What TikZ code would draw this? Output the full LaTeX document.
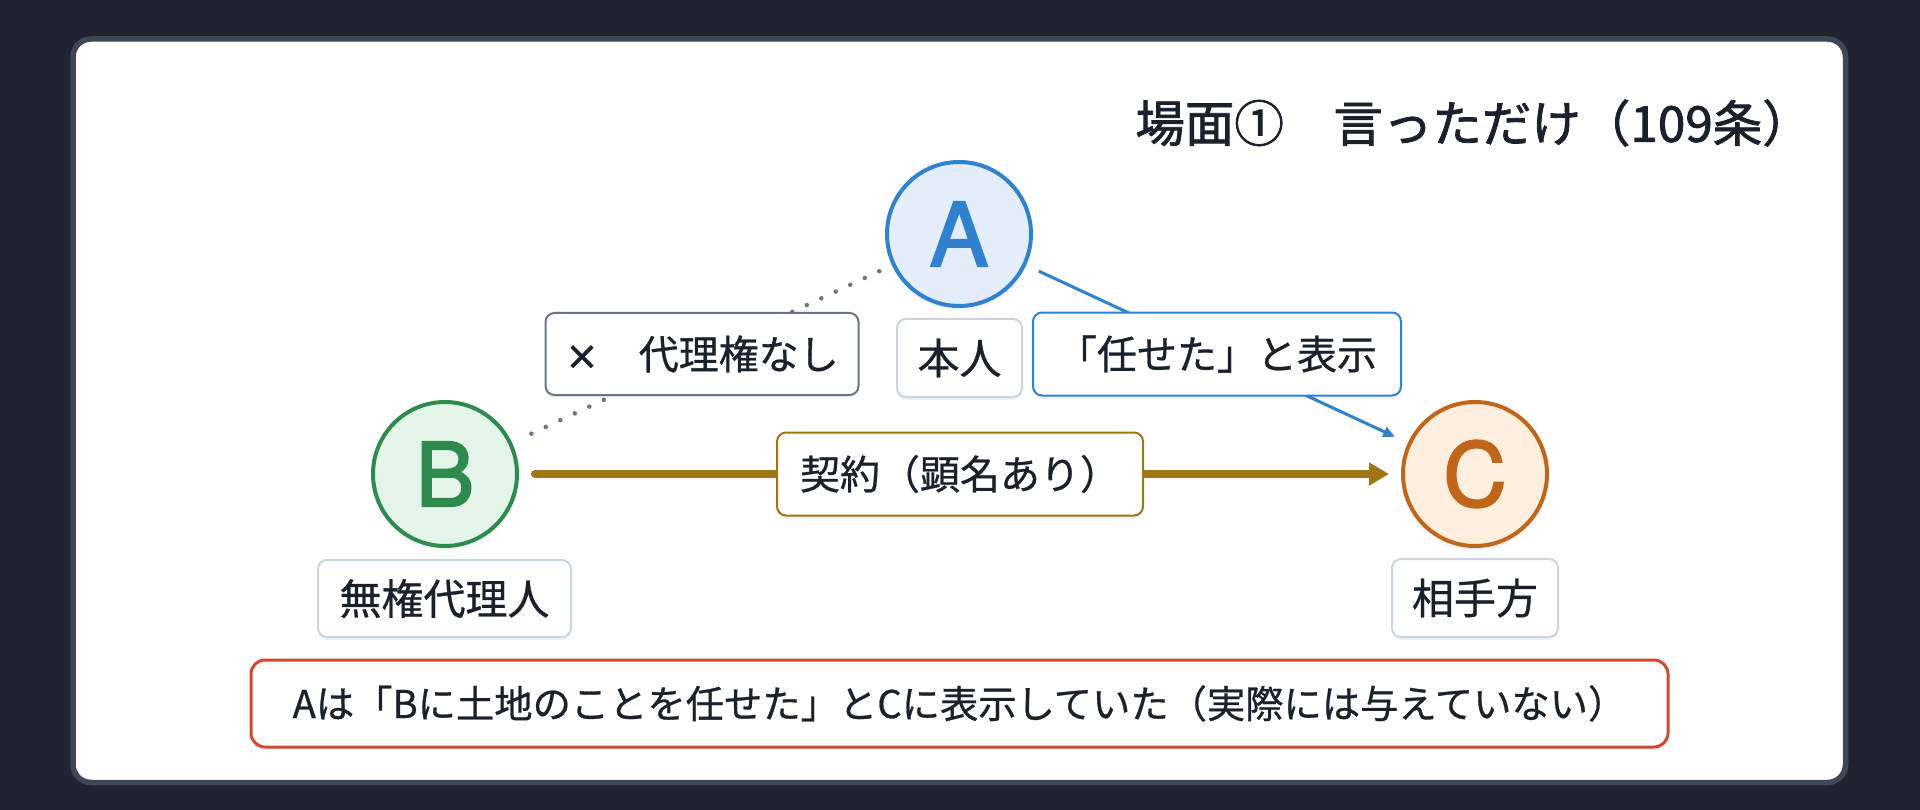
\documentclass[tikz,border=0pt]{standalone}
\usepackage{fontspec}
\setmainfont{Noto Sans CJK JP}
\newfontfamily\labelfont[FakeBold=0.7]{Noto Sans CJK JP}
\newfontfamily\titlefont[FakeBold=1.6]{Noto Sans CJK JP}
\newfontfamily\letterfont[FakeBold=2.2]{TeX Gyre Heros}
\newfontfamily\crossfont[FakeBold=0.7]{DejaVu Sans}
\usetikzlibrary{arrows.meta,shadows,fadings}
\definecolor{bgc}{HTML}{1E2530}
\definecolor{cardline}{HTML}{3D4756}
\definecolor{ink}{HTML}{1A202C}
\definecolor{blueC}{HTML}{3182CE}
\definecolor{blueF}{HTML}{E3EEFA}
\definecolor{greenC}{HTML}{2F8A4F}
\definecolor{greenF}{HTML}{E3F5E8}
\definecolor{orangeC}{HTML}{C0651A}
\definecolor{orangeF}{HTML}{FDEEDD}
\definecolor{goldC}{HTML}{A0751A}
\definecolor{grayC}{HTML}{6B7587}
\definecolor{lightC}{HTML}{CBD5E1}
\definecolor{redC}{HTML}{D04A2E}
\begin{document}
\begin{tikzpicture}[x=1pt,y=-1pt,
  person/.style={circle, minimum size=144pt, inner sep=0pt, line width=4pt,
    font=\letterfont\fontsize{88}{88}\selectfont,
    circular drop shadow={shadow xshift=0pt, shadow yshift=-4pt, shadow scale=1.04, opacity=0.18}},
  namebox/.style={draw=lightC, fill=white, rounded corners=9pt, line width=2pt,
    inner sep=0pt, text=ink, font=\labelfont\fontsize{42}{42}\selectfont,
    drop shadow={shadow xshift=0pt, shadow yshift=-3pt, opacity=0.06, fill=black}},
  edgelbl/.style={fill=white, rounded corners=9pt, solid, line width=2pt, line cap=butt,
    inner sep=0pt, text=ink, font=\labelfont\fontsize{40}{40}\selectfont,
    drop shadow={shadow xshift=0pt, shadow yshift=-3pt, opacity=0.06, fill=black}},
  dotline/.style={grayC, line width=4.5pt, line cap=round, dash pattern=on 0pt off 16pt,
    shorten <=14pt, shorten >=14pt},
  bluearrow/.style={blueC, line width=3pt, -{Triangle[length=12pt,width=10pt]},
    shorten <=14pt, shorten >=14pt},
  goldarrow/.style={goldC, line width=8pt, line cap=round, -{Triangle[length=20pt,width=22pt]},
    shorten <=16pt, shorten >=12pt},
  titlestyle/.style={inner sep=0pt, text=ink, font=\titlefont\fontsize{49.5}{49.5}\selectfont},
  notebox/.style={draw=redC, fill=white, rounded corners=14pt, line width=3pt,
    inner sep=0pt, text=ink, font=\labelfont\fontsize{38.3}{38.3}\selectfont,
    drop shadow={shadow xshift=0pt, shadow yshift=-3pt, opacity=0.06, fill=black}}
]
\fill[bgc] (0,0) rectangle (1920,810);
\useasboundingbox (0,0) rectangle (1920,810);
\draw[cardline, line width=5.5pt, fill=white, rounded corners=18pt] (73,39) rectangle (1845.5,782.5);

\node[titlestyle, anchor=east] (title) at (1812,123) {場面①　言っただけ（109条）};

\node[person, draw=blueC, fill=blueF, text=blueC] (A) at (959,234) {A};
\node[person, draw=greenC, fill=greenF, text=greenC] (B) at (445,474) {B};
\node[person, draw=orangeC, fill=orangeF, text=orangeC] (C) at (1475,474) {C};

\node[namebox, minimum width=125pt, minimum height=78pt] (nA) at (959.5,358) {本人};
\node[namebox, minimum width=253pt, minimum height=77pt] (nB) at (444.5,598.5) {無権代理人};
\node[namebox, minimum width=166pt, minimum height=78pt] (nC) at (1475,598) {相手方};

\draw[dotline] (A) -- node[edgelbl, draw=grayC, minimum width=313pt, minimum height=82pt] (noauth) {{\crossfont ×}　代理権なし} (B);
\draw[bluearrow] (A) -- node[edgelbl, draw=blueC, minimum width=368pt, minimum height=83pt] (shown) {「任せた」と表示} (C);
\draw[goldarrow] (B) -- node[edgelbl, draw=goldC, minimum width=366pt, minimum height=83pt] (contract) {契約（顕名あり）} (C);

\node[notebox, minimum width=1417pt, minimum height=87pt] (note) at (959.5,703.5) {Aは「Bに土地のことを任せた」とCに表示していた（実際には与えていない）};
\end{tikzpicture}
\end{document}
